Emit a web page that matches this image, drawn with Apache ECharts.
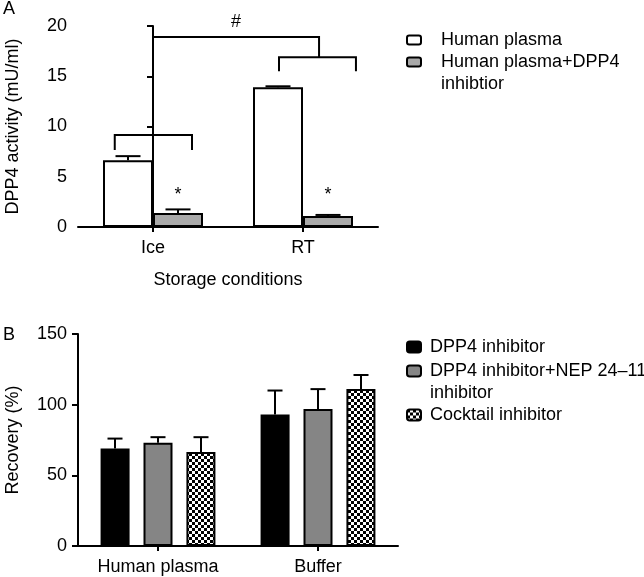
<!DOCTYPE html>
<html><head><meta charset="utf-8">
<script src="https://cdn.jsdelivr.net/npm/echarts@6/dist/echarts.min.js"></script>
<style>html,body{margin:0;padding:0;background:#fff}#c{width:644px;height:577px}</style>
</head><body><div id="c"></div>
<script>
// ---------- Panel A data ----------
const catsA = ['Ice', 'RT'];
const plasmaA = [6.65, 13.9];
const plasmaAErr = [0.4, 0.1];
const inhibA = [1.4, 1.1];
const inhibAErr = [0.35, 0.1];
const ticksA = [0, 5, 10, 15, 20];
// brackets: [x1, x2, yTop, yLeg] (x in category-index units)
const bracketIce = [-0.255, 0.26, 9.15, 7.65];
const bracketRT = [0.84, 1.353, 16.9, 15.5];
const bracketTop = [0.0, 1.107, 18.9];
const marksA = [[0.1667, 3.2, '*'], [1.1667, 3.2, '*'], [0.553, 20.35, '#']];

// ---------- Panel B data ----------
const catsB = ['Human plasma', 'Buffer'];
const dpp4B = [69, 93];
const dpp4BErr = [7, 17];
const nepB = [73, 97];
const nepBErr = [4, 14];
const cocktailB = [66.5, 111];
const cocktailBErr = [10.5, 10];
const ticksB = [0, 50, 100, 150];

const FONT = "'Liberation Sans', Arial, sans-serif";
const FS = 18;

// checkerboard pattern
const pc = document.createElement('canvas');
pc.width = 6; pc.height = 6;
const cx = pc.getContext('2d');
cx.fillStyle = '#fff'; cx.fillRect(0, 0, 6, 6);
cx.fillStyle = '#000'; cx.fillRect(0, 0, 3, 3); cx.fillRect(3, 3, 3, 3);
const checker = { image: pc, repeat: 'repeat' };

function errRender(offsets, capW) {
  return function (params, api) {
    const cat = api.value(0), v = api.value(1), e = api.value(2), s = api.value(3);
    const p0 = api.coord([cat, v]);
    const p1 = api.coord([cat, v + e]);
    const x = p0[0] + offsets[s];
    return {
      type: 'group', children: [
        { type: 'line', shape: { x1: x, y1: p0[1], x2: x, y2: p1[1] }, style: { stroke: '#000', lineWidth: 2 } },
        { type: 'line', shape: { x1: x - capW / 2, y1: p1[1], x2: x + capW / 2, y2: p1[1] }, style: { stroke: '#000', lineWidth: 2 } }
      ]
    };
  };
}

const errA = [];
catsA.forEach((c, i) => {
  errA.push([i, plasmaA[i], plasmaAErr[i], 0]);
  errA.push([i, inhibA[i], inhibAErr[i], 1]);
});
const errB = [];
catsB.forEach((c, i) => {
  errB.push([i, dpp4B[i], dpp4BErr[i], 0]);
  errB.push([i, nepB[i], nepBErr[i], 1]);
  errB.push([i, cocktailB[i], cocktailBErr[i], 2]);
});

const axisLine = { show: true, lineStyle: { color: '#000', width: 2 } };
const axisLabel = { color: '#000', fontSize: FS, fontFamily: FONT, margin: 12 };
const legText = (padL) => ({ fontSize: FS, fontFamily: FONT, color: '#000', lineHeight: 22, padding: [0, 0, 0, padL] });

const chart = echarts.init(document.getElementById('c'), null, { renderer: 'canvas' });
chart.setOption({
  animation: false,
  backgroundColor: '#fff',
  textStyle: { fontFamily: FONT },
  title: [
    { text: 'A', left: 3, top: 0, padding: 0, textStyle: { fontSize: FS, fontWeight: 'normal', color: '#000', fontFamily: FONT } },
    { text: 'B', left: 3, top: 326, padding: 0, textStyle: { fontSize: FS, fontWeight: 'normal', color: '#000', fontFamily: FONT } }
  ],
  grid: [
    { left: 78, top: 26, width: 300, height: 201 },
    { left: 78, top: 334, width: 320, height: 212 }
  ],
  legend: [
    { data: ['Human plasma'], left: 406, top: 29, padding: 0, itemWidth: 14, itemHeight: 9, selectedMode: false,
      textStyle: legText(15) },
    { data: ['Human plasma+DPP4 inhibtior'], left: 406, top: 29, padding: 0, itemWidth: 14, itemHeight: 9, selectedMode: false,
      formatter: () => ' \nHuman plasma+DPP4\ninhibtior',
      textStyle: legText(15) },
    { data: ['DPP4 inhibitor'], left: 406, top: 336, padding: 0, itemWidth: 14, itemHeight: 11, selectedMode: false,
      textStyle: legText(4) },
    { data: ['DPP4 inhibitor+NEP 24–11 inhibitor'], left: 406, top: 338, padding: 0, itemWidth: 14, itemHeight: 11, selectedMode: false,
      formatter: () => ' \nDPP4 inhibitor+NEP 24–11\ninhibitor',
      textStyle: legText(4) },
    { data: ['Cocktail inhibitor'], left: 406, top: 404, padding: 0, itemWidth: 14, itemHeight: 11, selectedMode: false,
      textStyle: legText(4) }
  ],
  xAxis: [
    { type: 'category', gridIndex: 0, data: catsA, axisLine,
      axisTick: { show: true, alignWithLabel: true, length: 5, lineStyle: { color: '#000', width: 2 } },
      axisLabel, name: 'Storage conditions', nameLocation: 'middle', nameGap: 44,
      nameTextStyle: { fontSize: FS, fontFamily: FONT, color: '#000' } },
    { type: 'value', gridIndex: 0, min: -0.5, max: 1.5, show: false },
    { type: 'category', gridIndex: 1, data: catsB, axisLine,
      axisTick: { show: true, alignWithLabel: true, length: 5, lineStyle: { color: '#000', width: 2 } },
      axisLabel }
  ],
  yAxis: [
    { type: 'value', gridIndex: 0, min: ticksA[0], max: ticksA[ticksA.length - 1], interval: 5, axisLine,
      axisTick: { show: true, length: 6, lineStyle: { color: '#000', width: 2 } },
      axisLabel: Object.assign({}, axisLabel, { margin: 11 }), splitLine: { show: false },
      name: 'DPP4 activity (mU/ml)', nameLocation: 'middle', nameGap: 56,
      nameTextStyle: { fontSize: FS, fontFamily: FONT, color: '#000' } },
    { type: 'value', gridIndex: 1, min: ticksB[0], max: ticksB[ticksB.length - 1], interval: 50, axisLine,
      axisTick: { show: true, length: 6, lineStyle: { color: '#000', width: 2 } },
      axisLabel: Object.assign({}, axisLabel, { margin: 11 }), splitLine: { show: false },
      name: 'Recovery (%)', nameLocation: 'middle', nameGap: 56,
      nameTextStyle: { fontSize: FS, fontFamily: FONT, color: '#000' } }
  ],
  series: [
    { name: 'Human plasma', type: 'bar', xAxisIndex: 0, yAxisIndex: 0, data: plasmaA, barWidth: 50, barGap: '0%',
      itemStyle: { color: '#fff', borderColor: '#000', borderWidth: 2 } },
    { name: 'Human plasma+DPP4 inhibtior', type: 'bar', xAxisIndex: 0, yAxisIndex: 0, data: inhibA, barWidth: 50, barGap: '0%',
      itemStyle: { color: '#a9a9a9', borderColor: '#000', borderWidth: 2 } },
    { type: 'custom', xAxisIndex: 0, yAxisIndex: 0, data: errA, renderItem: errRender([-25, 25], 25),
      encode: { x: 0, y: 1 }, z: 5, silent: true },
    { type: 'custom', xAxisIndex: 1, yAxisIndex: 0, data: [0], silent: true, z: 5, clip: false,
      renderItem: function (params, api) {
        const pts = (arr) => arr.map(p => api.coord(p));
        const lines = [];
        [bracketIce, bracketRT].forEach(b => {
          lines.push(pts([[b[0], b[3]], [b[0], b[2]], [b[1], b[2]], [b[1], b[3]]]));
        });
        const iceMid = bracketTop[0], rtMid = bracketTop[1];
        lines.push(pts([[iceMid, bracketIce[2]], [iceMid, bracketTop[2]], [rtMid, bracketTop[2]], [rtMid, bracketRT[2]]]));
        return { type: 'group', children: lines.map(l => ({ type: 'polyline', shape: { points: l }, style: { stroke: '#000', lineWidth: 2, fill: null } })) };
      } },
    { type: 'custom', xAxisIndex: 1, yAxisIndex: 0, data: marksA.map(m => [m[0], m[1]]), silent: true, z: 5, clip: false,
      renderItem: function (params, api) {
        const p = api.coord([api.value(0), api.value(1)]);
        return { type: 'text', x: p[0], y: p[1], style: { text: marksA[params.dataIndex][2], fontSize: FS, fontFamily: FONT, fill: '#000', align: 'center', verticalAlign: 'middle' } };
      } },
    { name: 'DPP4 inhibitor', type: 'bar', xAxisIndex: 2, yAxisIndex: 1, data: dpp4B, barWidth: 29, barGap: '48%',
      itemStyle: { color: '#000', borderColor: '#000', borderWidth: 2 } },
    { name: 'DPP4 inhibitor+NEP 24–11 inhibitor', type: 'bar', xAxisIndex: 2, yAxisIndex: 1, data: nepB, barWidth: 29, barGap: '48%',
      itemStyle: { color: '#858585', borderColor: '#000', borderWidth: 2 } },
    { name: 'Cocktail inhibitor', type: 'bar', xAxisIndex: 2, yAxisIndex: 1, data: cocktailB, barWidth: 29, barGap: '48%',
      itemStyle: { color: checker, borderColor: '#000', borderWidth: 2 } },
    { type: 'custom', xAxisIndex: 2, yAxisIndex: 1, data: errB, renderItem: errRender([-43, 0, 43], 15),
      encode: { x: 0, y: 1 }, z: 5, silent: true }
  ]
});
</script>
</body></html>
